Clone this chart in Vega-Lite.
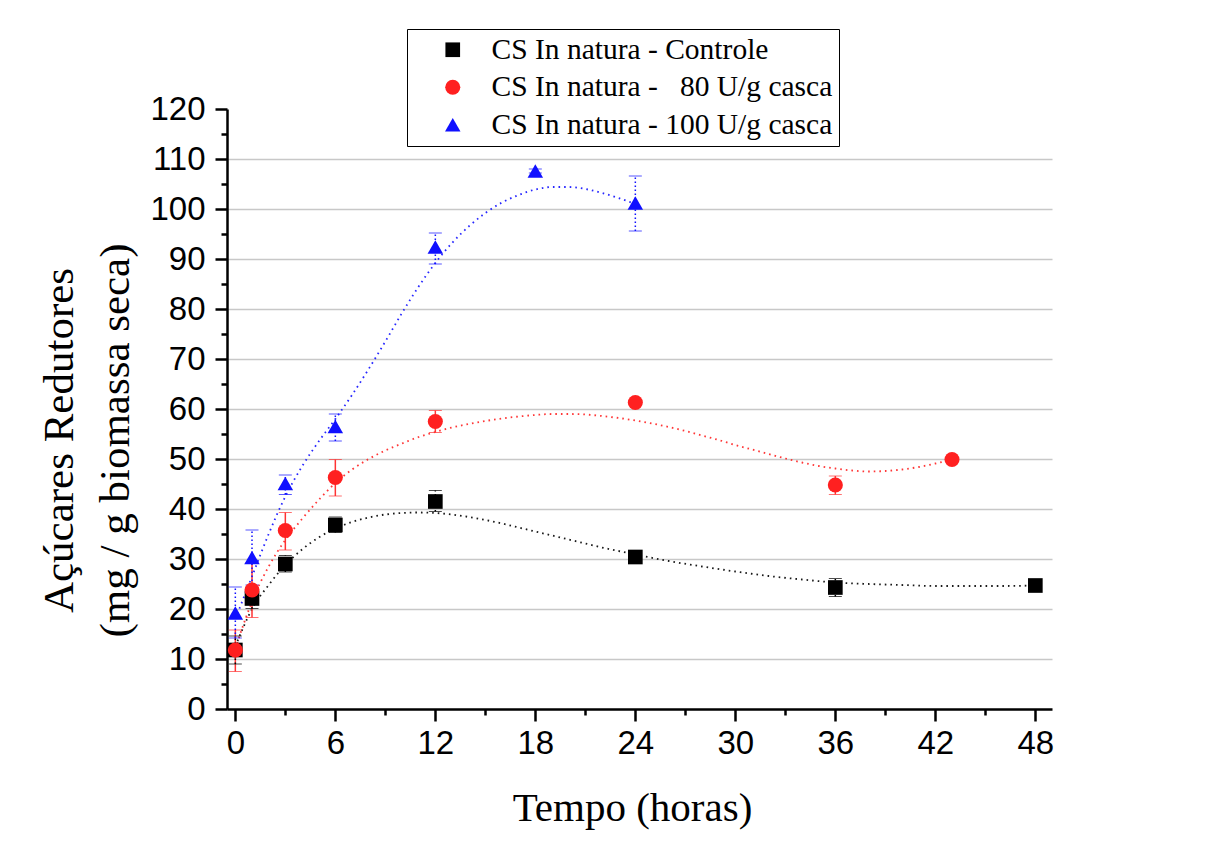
{
  "$schema": "https://vega.github.io/schema/vega-lite/v6.json",
  "width": 825,
  "height": 600,
  "autosize": "none",
  "padding": {"left": 227, "top": 109, "right": 156, "bottom": 134},
  "background": "white",
  "config": {
    "view": {"stroke": null},
    "axis": {
      "domainColor": "black", "domainWidth": 2.5,
      "tickColor": "black", "tickWidth": 2.5,
      "labelFont": "Liberation Sans", "labelFontSize": 33, "labelColor": "black",
      "titleFont": "Liberation Serif", "titleFontWeight": "normal", "titleColor": "black",
      "labelFlush": false, "labelOverlap": false
    }
  },
  "resolve": {"axis": {"x": "independent", "y": "independent"}, "legend": {"color": "independent", "shape": "independent", "size": "independent"}},
  "datasets": {
    "pts": [
      {"series": "CS In natura - Controle", "t": 0, "y": 11.8, "lo": 9.0, "hi": 14.6},
      {"series": "CS In natura - Controle", "t": 1, "y": 22.1, "lo": 20.1, "hi": 24.1},
      {"series": "CS In natura - Controle", "t": 3, "y": 29.0, "lo": 27.4, "hi": 30.7},
      {"series": "CS In natura - Controle", "t": 6, "y": 36.8, "lo": 35.3, "hi": 38.4},
      {"series": "CS In natura - Controle", "t": 12, "y": 41.5, "lo": 39.5, "hi": 43.7},
      {"series": "CS In natura - Controle", "t": 24, "y": 30.4, "lo": 29.9, "hi": 30.9},
      {"series": "CS In natura - Controle", "t": 36, "y": 24.3, "lo": 22.5, "hi": 26.1},
      {"series": "CS In natura - Controle", "t": 48, "y": 24.7, "lo": 24.3, "hi": 25.1},
      {"series": "CS In natura -\u00a0\u00a0 80 U/g casca", "t": 0, "y": 11.8, "lo": 7.5, "hi": 15.8},
      {"series": "CS In natura -\u00a0\u00a0 80 U/g casca", "t": 1, "y": 23.8, "lo": 18.3, "hi": 29.3},
      {"series": "CS In natura -\u00a0\u00a0 80 U/g casca", "t": 3, "y": 35.7, "lo": 31.8, "hi": 39.3},
      {"series": "CS In natura -\u00a0\u00a0 80 U/g casca", "t": 6, "y": 46.3, "lo": 42.6, "hi": 49.9},
      {"series": "CS In natura -\u00a0\u00a0 80 U/g casca", "t": 12, "y": 57.5, "lo": 55.3, "hi": 59.7},
      {"series": "CS In natura -\u00a0\u00a0 80 U/g casca", "t": 24, "y": 61.3, "lo": 60.9, "hi": 61.7},
      {"series": "CS In natura -\u00a0\u00a0 80 U/g casca", "t": 36, "y": 44.8, "lo": 42.9, "hi": 46.6},
      {"series": "CS In natura -\u00a0\u00a0 80 U/g casca", "t": 43, "y": 49.9, "lo": 49.5, "hi": 50.3},
      {"series": "CS In natura - 100 U/g casca", "t": 0, "y": 19.2, "lo": 14.2, "hi": 24.4},
      {"series": "CS In natura - 100 U/g casca", "t": 1, "y": 30.3, "lo": 24.8, "hi": 35.8},
      {"series": "CS In natura - 100 U/g casca", "t": 3, "y": 45.1, "lo": 42.9, "hi": 46.8},
      {"series": "CS In natura - 100 U/g casca", "t": 6, "y": 56.5, "lo": 53.6, "hi": 59.0},
      {"series": "CS In natura - 100 U/g casca", "t": 12, "y": 92.4, "lo": 89.0, "hi": 95.2},
      {"series": "CS In natura - 100 U/g casca", "t": 18, "y": 107.6, "lo": 107.2, "hi": 108.0},
      {"series": "CS In natura - 100 U/g casca", "t": 24, "y": 101.2, "lo": 95.6, "hi": 106.6}
    ],
    "curves": [
      {"series": "CS In natura - Controle", "t": 0, "y": 12.5},
      {"series": "CS In natura - Controle", "t": 0.5, "y": 16.5},
      {"series": "CS In natura - Controle", "t": 1, "y": 20.0},
      {"series": "CS In natura - Controle", "t": 2, "y": 24.8},
      {"series": "CS In natura - Controle", "t": 3, "y": 28.8},
      {"series": "CS In natura - Controle", "t": 4, "y": 31.9},
      {"series": "CS In natura - Controle", "t": 5, "y": 34.3},
      {"series": "CS In natura - Controle", "t": 6, "y": 36.1},
      {"series": "CS In natura - Controle", "t": 7, "y": 37.4},
      {"series": "CS In natura - Controle", "t": 8, "y": 38.3},
      {"series": "CS In natura - Controle", "t": 9, "y": 38.9},
      {"series": "CS In natura - Controle", "t": 10, "y": 39.2},
      {"series": "CS In natura - Controle", "t": 11, "y": 39.3},
      {"series": "CS In natura - Controle", "t": 12, "y": 39.2},
      {"series": "CS In natura - Controle", "t": 13, "y": 38.9},
      {"series": "CS In natura - Controle", "t": 14, "y": 38.4},
      {"series": "CS In natura - Controle", "t": 15, "y": 37.8},
      {"series": "CS In natura - Controle", "t": 16, "y": 37.1},
      {"series": "CS In natura - Controle", "t": 17, "y": 36.3},
      {"series": "CS In natura - Controle", "t": 18, "y": 35.5},
      {"series": "CS In natura - Controle", "t": 19, "y": 34.7},
      {"series": "CS In natura - Controle", "t": 20, "y": 33.9},
      {"series": "CS In natura - Controle", "t": 21, "y": 33.1},
      {"series": "CS In natura - Controle", "t": 22, "y": 32.3},
      {"series": "CS In natura - Controle", "t": 23, "y": 31.6},
      {"series": "CS In natura - Controle", "t": 24, "y": 30.9},
      {"series": "CS In natura - Controle", "t": 26, "y": 29.6},
      {"series": "CS In natura - Controle", "t": 28, "y": 28.5},
      {"series": "CS In natura - Controle", "t": 30, "y": 27.5},
      {"series": "CS In natura - Controle", "t": 32, "y": 26.6},
      {"series": "CS In natura - Controle", "t": 34, "y": 25.9},
      {"series": "CS In natura - Controle", "t": 36, "y": 25.3},
      {"series": "CS In natura - Controle", "t": 38, "y": 25.0},
      {"series": "CS In natura - Controle", "t": 40, "y": 24.8},
      {"series": "CS In natura - Controle", "t": 42, "y": 24.6},
      {"series": "CS In natura - Controle", "t": 44, "y": 24.6},
      {"series": "CS In natura - Controle", "t": 46, "y": 24.6},
      {"series": "CS In natura - Controle", "t": 48, "y": 24.7},
      {"series": "CS In natura -\u00a0\u00a0 80 U/g casca", "t": 0, "y": 12.0},
      {"series": "CS In natura -\u00a0\u00a0 80 U/g casca", "t": 0.5, "y": 17.0},
      {"series": "CS In natura -\u00a0\u00a0 80 U/g casca", "t": 1, "y": 21.5},
      {"series": "CS In natura -\u00a0\u00a0 80 U/g casca", "t": 2, "y": 28.5},
      {"series": "CS In natura -\u00a0\u00a0 80 U/g casca", "t": 3, "y": 33.8},
      {"series": "CS In natura -\u00a0\u00a0 80 U/g casca", "t": 4, "y": 38.0},
      {"series": "CS In natura -\u00a0\u00a0 80 U/g casca", "t": 5, "y": 41.8},
      {"series": "CS In natura -\u00a0\u00a0 80 U/g casca", "t": 6, "y": 45.2},
      {"series": "CS In natura -\u00a0\u00a0 80 U/g casca", "t": 7, "y": 47.9},
      {"series": "CS In natura -\u00a0\u00a0 80 U/g casca", "t": 8, "y": 50.0},
      {"series": "CS In natura -\u00a0\u00a0 80 U/g casca", "t": 9, "y": 51.7},
      {"series": "CS In natura -\u00a0\u00a0 80 U/g casca", "t": 10, "y": 53.1},
      {"series": "CS In natura -\u00a0\u00a0 80 U/g casca", "t": 11, "y": 54.4},
      {"series": "CS In natura -\u00a0\u00a0 80 U/g casca", "t": 12, "y": 55.4},
      {"series": "CS In natura -\u00a0\u00a0 80 U/g casca", "t": 13, "y": 56.3},
      {"series": "CS In natura -\u00a0\u00a0 80 U/g casca", "t": 14, "y": 57.0},
      {"series": "CS In natura -\u00a0\u00a0 80 U/g casca", "t": 15, "y": 57.6},
      {"series": "CS In natura -\u00a0\u00a0 80 U/g casca", "t": 16, "y": 58.1},
      {"series": "CS In natura -\u00a0\u00a0 80 U/g casca", "t": 17, "y": 58.5},
      {"series": "CS In natura -\u00a0\u00a0 80 U/g casca", "t": 18, "y": 58.8},
      {"series": "CS In natura -\u00a0\u00a0 80 U/g casca", "t": 19, "y": 59.0},
      {"series": "CS In natura -\u00a0\u00a0 80 U/g casca", "t": 20, "y": 59.0},
      {"series": "CS In natura -\u00a0\u00a0 80 U/g casca", "t": 21, "y": 58.9},
      {"series": "CS In natura -\u00a0\u00a0 80 U/g casca", "t": 22, "y": 58.6},
      {"series": "CS In natura -\u00a0\u00a0 80 U/g casca", "t": 23, "y": 58.2},
      {"series": "CS In natura -\u00a0\u00a0 80 U/g casca", "t": 24, "y": 57.7},
      {"series": "CS In natura -\u00a0\u00a0 80 U/g casca", "t": 25, "y": 57.1},
      {"series": "CS In natura -\u00a0\u00a0 80 U/g casca", "t": 26, "y": 56.4},
      {"series": "CS In natura -\u00a0\u00a0 80 U/g casca", "t": 27, "y": 55.6},
      {"series": "CS In natura -\u00a0\u00a0 80 U/g casca", "t": 28, "y": 54.7},
      {"series": "CS In natura -\u00a0\u00a0 80 U/g casca", "t": 29, "y": 53.8},
      {"series": "CS In natura -\u00a0\u00a0 80 U/g casca", "t": 30, "y": 52.8},
      {"series": "CS In natura -\u00a0\u00a0 80 U/g casca", "t": 31, "y": 51.9},
      {"series": "CS In natura -\u00a0\u00a0 80 U/g casca", "t": 32, "y": 51.0},
      {"series": "CS In natura -\u00a0\u00a0 80 U/g casca", "t": 33, "y": 50.1},
      {"series": "CS In natura -\u00a0\u00a0 80 U/g casca", "t": 34, "y": 49.3},
      {"series": "CS In natura -\u00a0\u00a0 80 U/g casca", "t": 35, "y": 48.6},
      {"series": "CS In natura -\u00a0\u00a0 80 U/g casca", "t": 36, "y": 48.1},
      {"series": "CS In natura -\u00a0\u00a0 80 U/g casca", "t": 37, "y": 47.7},
      {"series": "CS In natura -\u00a0\u00a0 80 U/g casca", "t": 38, "y": 47.5},
      {"series": "CS In natura -\u00a0\u00a0 80 U/g casca", "t": 39, "y": 47.6},
      {"series": "CS In natura -\u00a0\u00a0 80 U/g casca", "t": 40, "y": 47.9},
      {"series": "CS In natura -\u00a0\u00a0 80 U/g casca", "t": 41, "y": 48.4},
      {"series": "CS In natura -\u00a0\u00a0 80 U/g casca", "t": 42, "y": 49.1},
      {"series": "CS In natura -\u00a0\u00a0 80 U/g casca", "t": 43, "y": 49.9},
      {"series": "CS In natura - 100 U/g casca", "t": 0, "y": 18.0},
      {"series": "CS In natura - 100 U/g casca", "t": 1, "y": 26.5},
      {"series": "CS In natura - 100 U/g casca", "t": 2, "y": 35.0},
      {"series": "CS In natura - 100 U/g casca", "t": 3, "y": 42.5},
      {"series": "CS In natura - 100 U/g casca", "t": 4, "y": 48.5},
      {"series": "CS In natura - 100 U/g casca", "t": 5, "y": 53.5},
      {"series": "CS In natura - 100 U/g casca", "t": 6, "y": 58.0},
      {"series": "CS In natura - 100 U/g casca", "t": 7, "y": 62.8},
      {"series": "CS In natura - 100 U/g casca", "t": 8, "y": 68.0},
      {"series": "CS In natura - 100 U/g casca", "t": 9, "y": 73.5},
      {"series": "CS In natura - 100 U/g casca", "t": 10, "y": 79.2},
      {"series": "CS In natura - 100 U/g casca", "t": 11, "y": 84.5},
      {"series": "CS In natura - 100 U/g casca", "t": 12, "y": 89.2},
      {"series": "CS In natura - 100 U/g casca", "t": 13, "y": 93.2},
      {"series": "CS In natura - 100 U/g casca", "t": 14, "y": 96.5},
      {"series": "CS In natura - 100 U/g casca", "t": 15, "y": 99.2},
      {"series": "CS In natura - 100 U/g casca", "t": 16, "y": 101.3},
      {"series": "CS In natura - 100 U/g casca", "t": 17, "y": 102.8},
      {"series": "CS In natura - 100 U/g casca", "t": 18, "y": 103.9},
      {"series": "CS In natura - 100 U/g casca", "t": 19, "y": 104.4},
      {"series": "CS In natura - 100 U/g casca", "t": 20, "y": 104.4},
      {"series": "CS In natura - 100 U/g casca", "t": 21, "y": 104.0},
      {"series": "CS In natura - 100 U/g casca", "t": 22, "y": 103.2},
      {"series": "CS In natura - 100 U/g casca", "t": 23, "y": 102.2},
      {"series": "CS In natura - 100 U/g casca", "t": 24, "y": 101.0}
    ]
  },
  "layer": [
    {
      "data": {"name": "curves"},
      "mark": {"type": "line", "interpolate": "monotone", "strokeDash": [1.6, 4], "strokeWidth": 1.8, "opacity": 0.9},
      "encoding": {
        "x": {"field": "t", "type": "quantitative", "scale": {"domain": [-0.5, 49], "nice": false, "zero": false},
          "axis": {
            "orient": "bottom",
            "values": [0, 3, 6, 9, 12, 15, 18, 21, 24, 27, 30, 33, 36, 39, 42, 45, 48],
            "labelExpr": "datum.value % 6 === 0 ? datum.label : ''",
            "tickSize": {"condition": {"test": "datum.value % 6 !== 0", "value": 6}, "value": 12},
            "labelPadding": 6,
            "grid": false,
            "title": "Tempo (horas)", "titleFontSize": 41,
            "titleX": 405, "titleY": 111, "titleBaseline": "alphabetic", "titleAlign": "center"
          }},
        "y": {"field": "y", "type": "quantitative", "scale": {"domain": [0, 120], "nice": false},
          "axis": {
            "orient": "left",
            "values": [0, 5, 10, 15, 20, 25, 30, 35, 40, 45, 50, 55, 60, 65, 70, 75, 80, 85, 90, 95, 100, 105, 110, 115, 120],
            "labelExpr": "datum.value % 10 === 0 ? datum.label : ''",
            "tickSize": {"condition": {"test": "datum.value % 10 !== 0", "value": 6}, "value": 12},
            "labelPadding": 10,
            "grid": true, "gridColor": "#c8c8c8", "gridWidth": 1.5,
            "gridOpacity": {"condition": {"test": "datum.value % 10 !== 0 || datum.value >= 120 || datum.value <= 0", "value": 0}, "value": 1},
            "title": ["Açúcares Redutores", "(mg / g biomassa seca)"], "titleFontSize": 43,
            "titleAngle": 270, "titleX": -155, "titleY": 331, "titleBaseline": "alphabetic", "titleAlign": "center",
            "titleLineHeight": 56
          }},
        "color": {"field": "series", "type": "nominal", "legend": null,
          "scale": {"domain": ["CS In natura - Controle", "CS In natura -\u00a0\u00a0 80 U/g casca", "CS In natura - 100 U/g casca"], "range": ["#000000", "#ff2020", "#1010ff"]}},
        "detail": {"field": "series"}
      }
    },
    {
      "data": {"name": "pts"},
      "transform": [{"filter": "datum.series === 'CS In natura -\u00a0\u00a0 80 U/g casca'"}],
      "mark": {"type": "errorbar", "ticks": {"size": 13, "strokeWidth": 1.5}, "rule": {"strokeWidth": 1.5}, "color": "#ff3333"},
      "encoding": {
        "x": {"field": "t", "type": "quantitative", "axis": null},
        "y": {"field": "lo", "type": "quantitative", "axis": null},
        "y2": {"field": "hi"}
      }
    },
    {
      "data": {"name": "pts"},
      "transform": [{"filter": "datum.series !== 'CS In natura -\u00a0\u00a0 80 U/g casca'"}],
      "mark": {"type": "errorbar", "ticks": {"size": 13, "strokeWidth": 1.5, "strokeDash": [1.5, 2.5]}, "rule": {"strokeWidth": 1.5, "strokeDash": [1.5, 2.5]}},
      "encoding": {
        "x": {"field": "t", "type": "quantitative", "axis": null},
        "y": {"field": "lo", "type": "quantitative", "axis": null},
        "y2": {"field": "hi"},
        "color": {"field": "series", "type": "nominal", "legend": null}
      }
    },
    {
      "data": {"name": "pts"},
      "mark": {"type": "point", "filled": true, "opacity": 1, "strokeWidth": 0},
      "encoding": {
        "x": {"field": "t", "type": "quantitative", "axis": null},
        "y": {"field": "y", "type": "quantitative", "axis": null},
        "color": {"field": "series", "type": "nominal",
          "legend": {
            "orient": "none", "legendX": 180, "legendY": -80,
            "title": null, "strokeColor": "black", "fillColor": "white",
            "padding": 6, "labelFont": "Liberation Serif", "labelFontSize": 29.5, "labelColor": "black",
            "labelLimit": 0, "symbolSize": 240, "symbolOffset": 25, "labelOffset": 24, "rowPadding": 6.5,
            "symbolStrokeWidth": 0
          }},
        "shape": {"field": "series", "type": "nominal",
          "scale": {"domain": ["CS In natura - Controle", "CS In natura -\u00a0\u00a0 80 U/g casca", "CS In natura - 100 U/g casca"], "range": ["square", "circle", "triangle-up"]},
          "legend": {
            "orient": "none", "legendX": 180, "legendY": -80,
            "title": null, "strokeColor": "black", "fillColor": "white",
            "padding": 6, "labelFont": "Liberation Serif", "labelFontSize": 29.5, "labelColor": "black",
            "labelLimit": 0, "symbolSize": 240, "symbolOffset": 25, "labelOffset": 24, "rowPadding": 6.5,
            "symbolStrokeWidth": 0
          }},
        "size": {"field": "series", "type": "nominal", "legend": null,
          "scale": {"domain": ["CS In natura - Controle", "CS In natura -\u00a0\u00a0 80 U/g casca", "CS In natura - 100 U/g casca"], "range": [215, 240, 330]}}
      }
    }
  ]
}
